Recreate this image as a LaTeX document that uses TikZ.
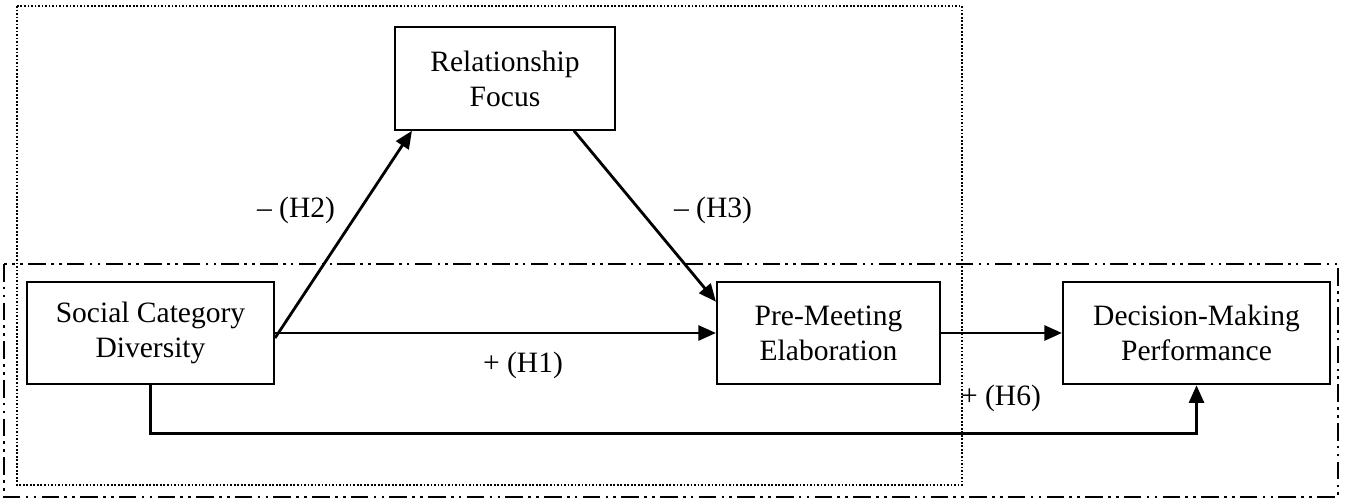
\documentclass[tikz,border=0pt]{standalone}
\usepackage{fontspec}
\setmainfont{Liberation Serif}
\usetikzlibrary{arrows.meta}

\begin{document}
\begin{tikzpicture}[x=0.02cm,y=-0.02cm,
    box/.style={draw, line width=1.2pt, align=center, inner sep=0pt,
      minimum height=2.05cm, font=\fontsize{16.8}{20}\selectfont},
    link/.style={line width=1.6pt, -{Triangle[length=10pt,width=8.5pt]}},
    hyp/.style={font=\fontsize{16.8}{20}\selectfont}]
  \useasboundingbox (0,0) rectangle (1346,500);

  % model boundaries
  \draw[line width=0.9pt, dash pattern=on 1pt off 1pt] (17,6) rectangle (962,485);
  \draw[line width=1.2pt, dash pattern=on 10pt off 3pt on 1.5pt off 3pt on 1.5pt off 3pt]
    (4,264) rectangle (1338,497);

  % constructs
  \node[box, minimum width=4.94cm] (scd) at (150.5,333) {Social Category\\Diversity};
  \node[box, minimum width=4.4cm] (rf) at (505,78.5) {Relationship\\Focus};
  \node[box, minimum width=4.46cm] (pme) at (828.5,333) {Pre-Meeting\\Elaboration};
  \node[box, minimum width=5.34cm] (dmp) at (1196.5,333) {Decision-Making\\Performance};

  % paths
  \draw[link] ([yshift=-0.1cm]scd.east) -- ([xshift=0.36cm]rf.south west);
  \draw[link] ([xshift=-0.84cm]rf.south east) -- ([yshift=-0.42cm]pme.north west);
  \draw[link] (scd) -- (pme);
  \draw[link] (pme) -- (dmp);
  \draw[link] (scd.south) -- ++(0,48) -| (dmp.south);

  % hypotheses
  \node[hyp] (h1) at (523,365) {+ (H1)};
  \node[hyp] (h2) at (296,210) {– (H2)};
  \node[hyp] (h3) at (713,210) {– (H3)};
  \node[hyp] (h6) at (1001,398) {+ (H6)};
\end{tikzpicture}
\end{document}
